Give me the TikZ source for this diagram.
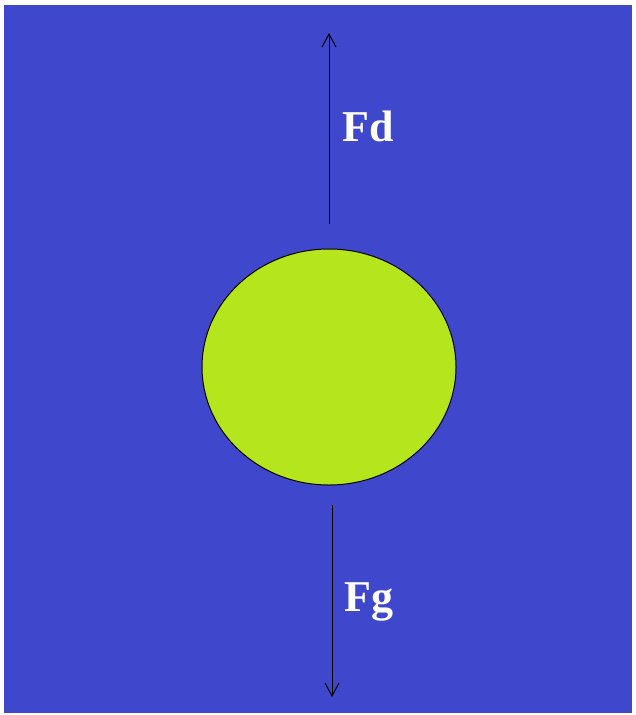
\documentclass[tikz,border=0pt]{standalone}
\usepackage{xcolor}
\usepackage{tikz}
\usetikzlibrary{arrows.meta,shapes.geometric}
\usepackage{fontspec}
\setmainfont{Liberation Serif}
\definecolor{paintblue}{HTML}{3F48CC}
\definecolor{paintlime}{HTML}{B5E61D}

\begin{document}
\begin{tikzpicture}[x=1pt,y=-1pt]
  \useasboundingbox (0,0) rectangle (636,715);
  \fill[paintblue] (4,5) rectangle (632,713);
  \node[ellipse,draw=black,fill=paintlime,line width=1pt,minimum width=254pt,minimum height=236pt,inner sep=0pt] (ball) at (329,367) {};
  \coordinate (updtail) at (329,224);
  \coordinate (uphead) at (329,33);
  \coordinate (downtail) at (332,505);
  \coordinate (downhead) at (332,697);
  \draw[line width=1pt,-{Straight Barb[length=13pt,width=14pt]}] (updtail) -- (uphead);
  \draw[line width=1pt,-{Straight Barb[length=13pt,width=14pt]}] (downtail) -- (downhead);
  \node[text=white,font=\fontsize{44}{44}\selectfont\bfseries,anchor=base west,inner sep=0pt] (fd) at (342,141) {Fd};
  \node[text=white,font=\fontsize{44}{44}\selectfont\bfseries,anchor=base west,inner sep=0pt] (fg) at (344,611) {Fg};
\end{tikzpicture}
\end{document}
